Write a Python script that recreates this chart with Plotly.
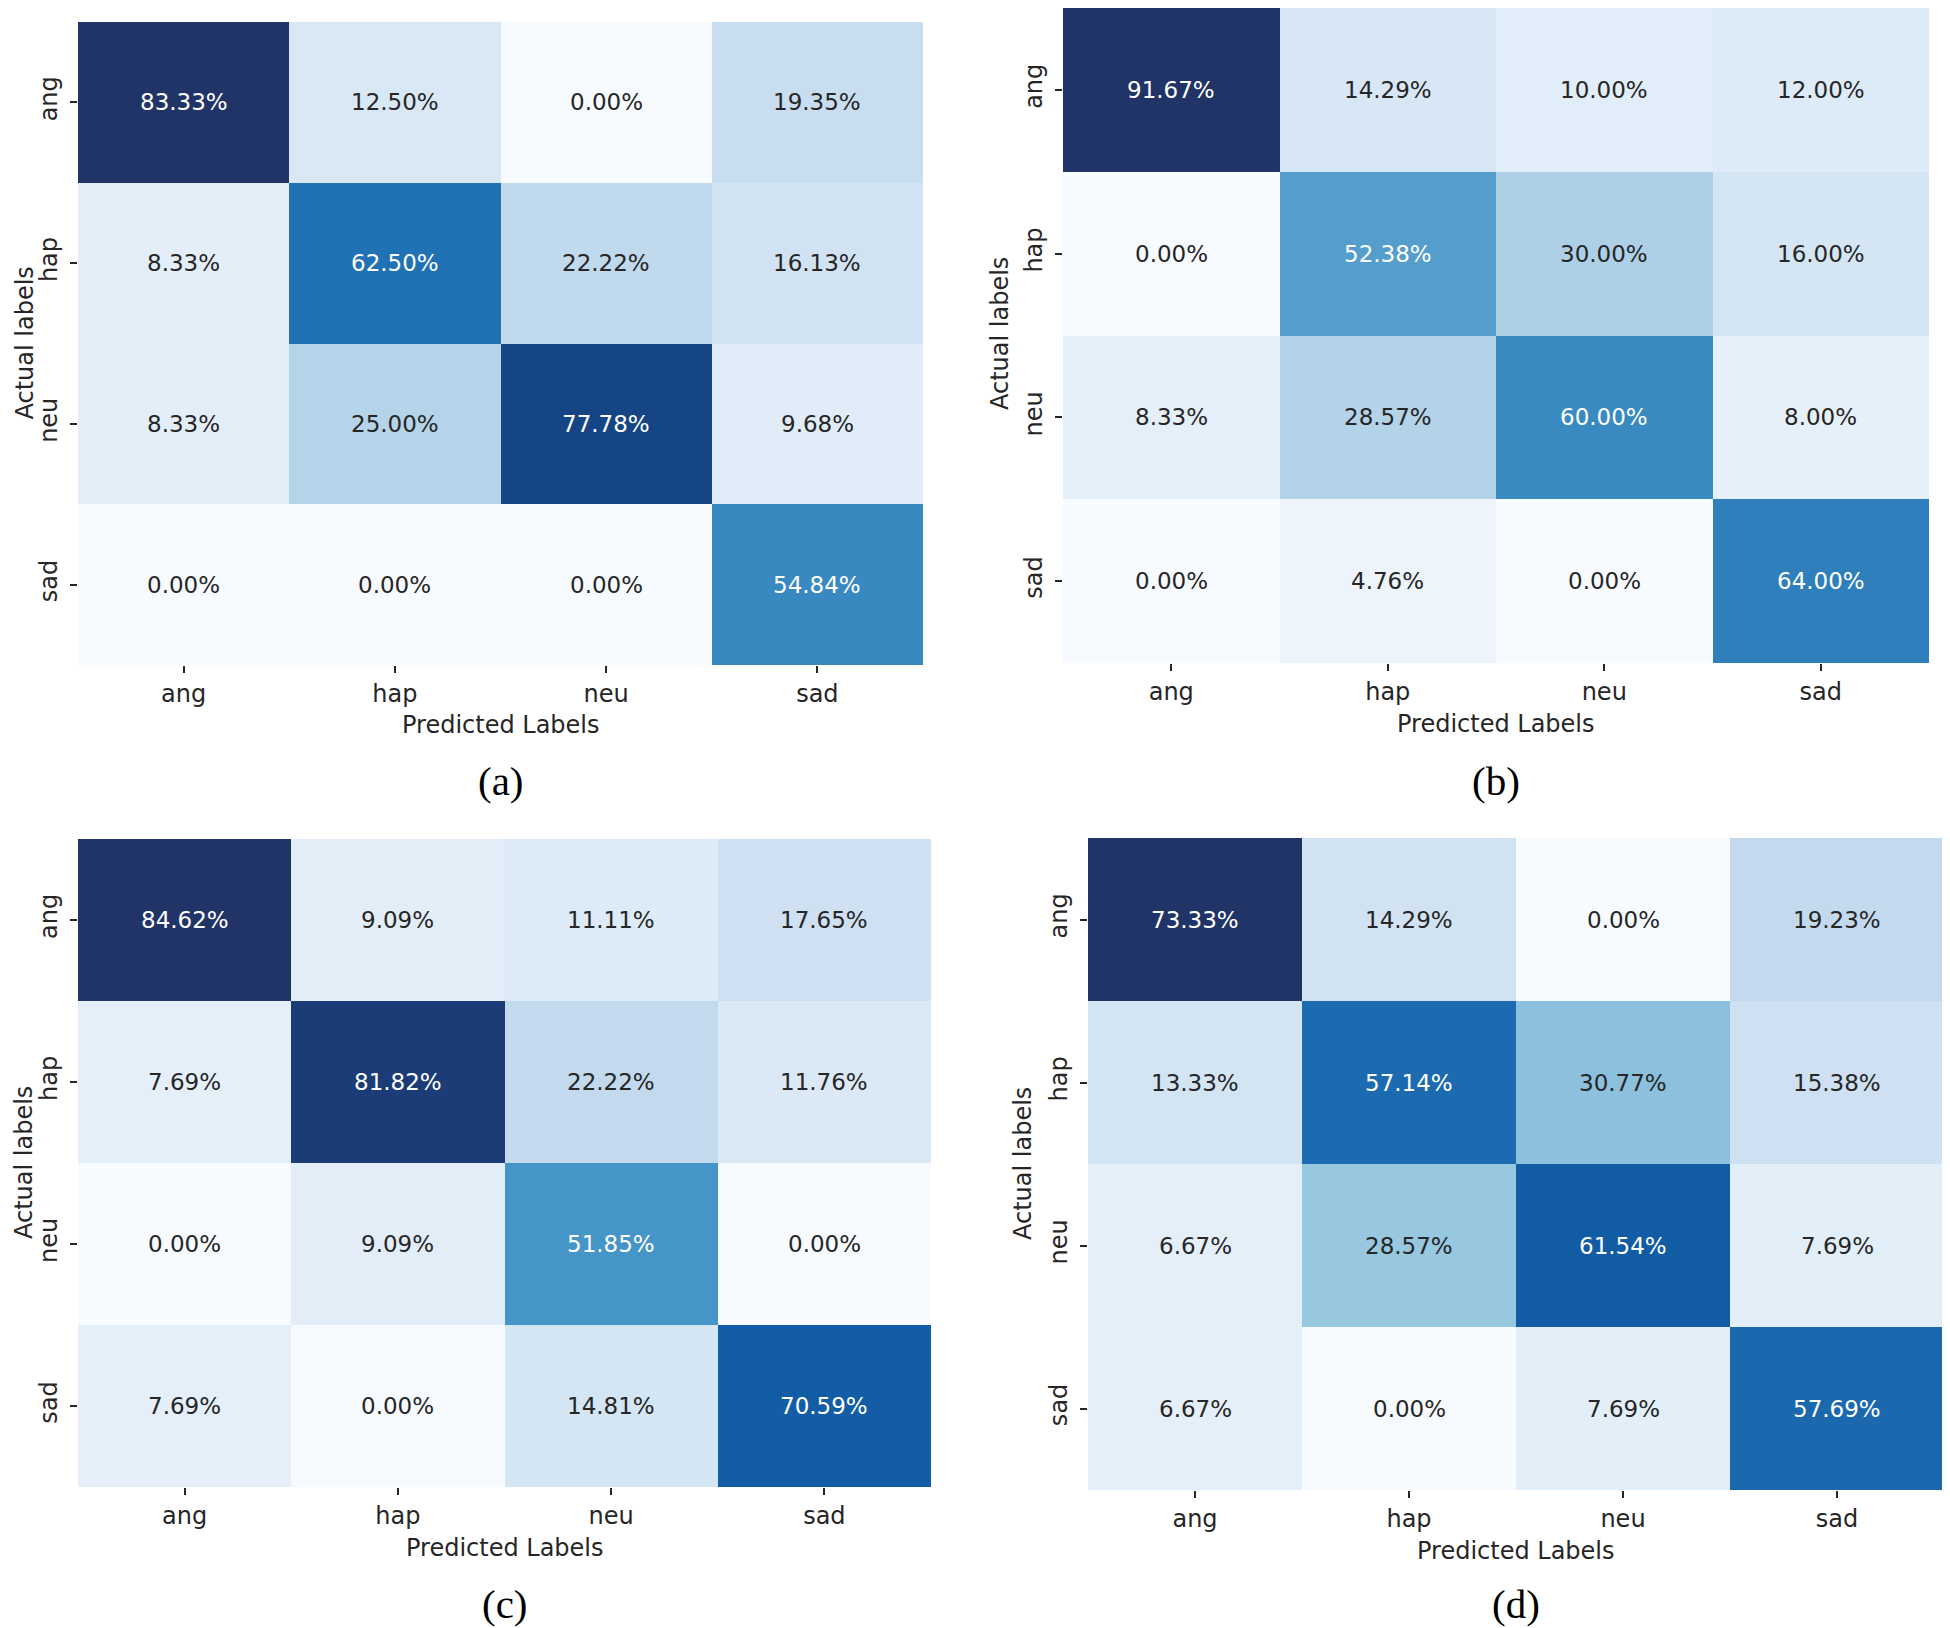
import plotly.graph_objects as go

labels = ["ang", "hap", "neu", "sad"]

# rows = actual labels, columns = predicted labels (percent)
cm_a = [[83.33, 12.50, 0.00, 19.35],
        [8.33, 62.50, 22.22, 16.13],
        [8.33, 25.00, 77.78, 9.68],
        [0.00, 0.00, 0.00, 54.84]]
cm_b = [[91.67, 14.29, 10.00, 12.00],
        [0.00, 52.38, 30.00, 16.00],
        [8.33, 28.57, 60.00, 8.00],
        [0.00, 4.76, 0.00, 64.00]]
cm_c = [[84.62, 9.09, 11.11, 17.65],
        [7.69, 81.82, 22.22, 11.76],
        [0.00, 9.09, 51.85, 0.00],
        [7.69, 0.00, 14.81, 70.59]]
cm_d = [[73.33, 14.29, 0.00, 19.23],
        [13.33, 57.14, 30.77, 15.38],
        [6.67, 28.57, 61.54, 7.69],
        [6.67, 0.00, 7.69, 57.69]]
panel_tags = ["(a)", "(b)", "(c)", "(d)"]

blues = [(247, 251, 255), (222, 235, 247), (198, 219, 239), (158, 202, 225),
         (107, 174, 214), (66, 146, 198), (33, 113, 181), (12, 84, 160), (33, 52, 104)]
colorscale = [[i / (len(blues) - 1), "rgb(%d,%d,%d)" % c] for i, c in enumerate(blues)]


def cmap(t):
    t = min(max(t, 0.0), 1.0)
    n = len(blues) - 1
    i = min(int(t * n), n - 1)
    f = t * n - i
    a, b = blues[i], blues[i + 1]
    return tuple(a[k] + (b[k] - a[k]) * f for k in range(3))


def lum(rgb):
    out = []
    for c in rgb:
        c = c / 255.0
        out.append(c / 12.92 if c <= 0.03928 else ((c + 0.055) / 1.055) ** 2.4)
    return 0.2126 * out[0] + 0.7152 * out[1] + 0.0722 * out[2]


W, H, OFF = 1950, 1628, 8  # page body margin offset


def px(x):
    return min(1.0, max(0.0, (x - OFF) / W))


def py(y):
    return min(1.0, max(0.0, 1 - (y - OFF) / H))


# heatmap boxes in page pixels: left, right, top, bottom
boxes = [(78, 923, 22, 665), (1063, 1929, 5, 663), (78, 931, 839, 1487), (1088, 1944, 838, 1490)]
xtitle_y = [725, 724, 1548, 1551]
tag_y = [781, 781, 1604, 1604]
ytitle_x = [24, 1000, 24, 1023]

FONT = "DejaVu Sans"
DARK = "#262626"

fig = go.Figure()
annotations = []
for p, cm in enumerate([cm_a, cm_b, cm_c, cm_d]):
    xa = "x" if p == 0 else "x%d" % (p + 1)
    ya = "y" if p == 0 else "y%d" % (p + 1)
    zmin = min(min(r) for r in cm)
    zmax = max(max(r) for r in cm)
    fig.add_trace(go.Heatmap(
        z=cm, x=labels, y=labels, xaxis=xa, yaxis=ya,
        colorscale=colorscale, zmin=zmin, zmax=zmax,
        showscale=False, xgap=0, ygap=0, hoverinfo="skip"))
    for i, row in enumerate(cm):
        for j, v in enumerate(row):
            col = cmap((v - zmin) / (zmax - zmin))
            tc = DARK if lum(col) > 0.408 else "white"
            annotations.append(dict(
                x=labels[j], y=labels[i], xref=xa, yref=ya,
                text="%.2f%%" % v, showarrow=False,
                xanchor="center", yanchor="middle",
                font=dict(family=FONT, size=23, color=tc)))
    l, r, t, b = boxes[p]
    cx = px((l + r) / 2)
    cy = py((t + b) / 2)
    annotations.append(dict(x=cx, y=py(xtitle_y[p]), xref="paper", yref="paper",
                            text="Predicted Labels", showarrow=False,
                            xanchor="center", yanchor="middle",
                            font=dict(family=FONT, size=24, color=DARK)))
    annotations.append(dict(x=px(ytitle_x[p]), y=cy, xref="paper", yref="paper",
                            text="Actual labels", showarrow=False, textangle=-90,
                            xanchor="center", yanchor="middle", borderpad=0,
                            font=dict(family=FONT, size=24, color=DARK)))
    annotations.append(dict(x=cx, y=py(tag_y[p]), xref="paper", yref="paper",
                            text=panel_tags[p], showarrow=False,
                            xanchor="center", yanchor="middle",
                            font=dict(family="Liberation Serif", size=41, color="black")))
    axis_common = dict(showgrid=False, zeroline=False, showline=False,
                       ticks="outside", ticklen=7, tickwidth=2, tickcolor=DARK,
                       tickfont=dict(family=FONT, size=24, color=DARK))
    fig.layout[("xaxis" if p == 0 else "xaxis%d" % (p + 1))] = dict(
        domain=[px(l), px(r)], anchor=ya, side="bottom", **axis_common)
    fig.layout[("yaxis" if p == 0 else "yaxis%d" % (p + 1))] = dict(
        domain=[py(b), py(t)], anchor=xa, autorange="reversed", tickangle=-90,
        ticklabelstandoff=3, **axis_common)

fig.update_layout(width=W, height=H, margin=dict(l=0, r=0, t=0, b=0),
                  paper_bgcolor="white", plot_bgcolor="white",
                  annotations=annotations, showlegend=False)
fig.write_html("out.html")
